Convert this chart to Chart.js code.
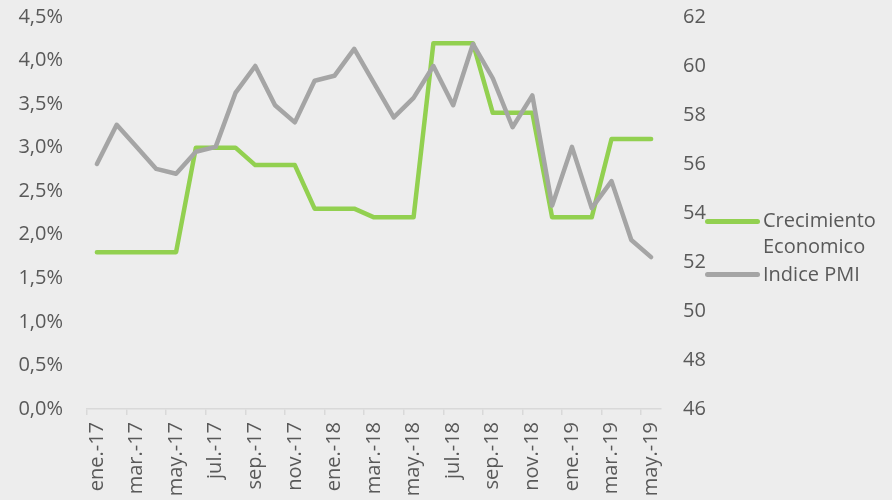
<!DOCTYPE html>
<html>
<head>
<meta charset="utf-8">
<script src="https://cdn.jsdelivr.net/npm/chart.js@4/dist/chart.umd.min.js"></script>
<style>
  html, body { margin:0; padding:0; background:#EDEDED; }
  #wrap { position:relative; width:892px; height:500px; background:#EDEDED; overflow:hidden; }
  canvas { position:absolute; left:0; top:0; }
  .leg { position:absolute; font-family:"Open Sans", sans-serif; font-size:20px; color:#595959; line-height:26px; white-space:nowrap; }
  .sw { position:absolute; height:5px; border-radius:3px; }
</style>
</head>
<body>
<div id="wrap">
  <canvas id="c" width="892" height="500"></canvas>
  <div class="sw" style="left:705px; top:219px; width:55px; background:#92D050;"></div>
  <div class="leg" style="left:763px; top:207px;">Crecimiento<br>Economico</div>
  <div class="sw" style="left:705px; top:272px; width:55px; background:#A5A5A5;"></div>
  <div class="leg" style="left:763px; top:261px;">Indice PMI</div>
</div>
<script>
const months = [
  'ene.-17','feb.-17','mar.-17','abr.-17','may.-17','jun.-17','jul.-17','ago.-17','sep.-17','oct.-17','nov.-17','dic.-17',
  'ene.-18','feb.-18','mar.-18','abr.-18','may.-18','jun.-18','jul.-18','ago.-18','sep.-18','oct.-18','nov.-18','dic.-18',
  'ene.-19','feb.-19','mar.-19','abr.-19','may.-19'
];
const crecimiento = [
  1.8,1.8,1.8,1.8,1.8,3.0,3.0,3.0,2.8,2.8,2.8,2.3,
  2.3,2.3,2.2,2.2,2.2,4.2,4.2,4.2,3.4,3.4,3.4,2.2,
  2.2,2.2,3.1,3.1,3.1
];
const pmi = [
  56.0,57.6,56.7,55.8,55.6,56.5,56.7,58.9,60.0,58.4,57.7,59.4,
  59.6,60.7,59.3,57.9,58.7,60.0,58.4,60.9,59.5,57.5,58.8,54.3,
  56.7,54.2,55.3,52.9,52.2
];
const leftTicks = {min:0, max:4.5, step:0.5};
const rightTicks = {min:46, max:62, step:2};

const txt = '#595959';
const font = {family:'"Open Sans", sans-serif', size:20};
const clear = 'rgba(0,0,0,0)';

new Chart(document.getElementById('c'), {
  type:'line',
  data:{
    labels: months,
    datasets:[
      {label:'Crecimiento Economico', data:crecimiento, yAxisID:'y', borderColor:'#92D050', borderWidth:4.5,
       pointRadius:0, tension:0, borderCapStyle:'round', borderJoinStyle:'round', order:2},
      {label:'Indice PMI', data:pmi, yAxisID:'y1', borderColor:'#A5A5A5', borderWidth:4.5,
       pointRadius:0, tension:0, borderCapStyle:'round', borderJoinStyle:'round', order:1}
    ]
  },
  options:{
    responsive:false, animation:false, devicePixelRatio:1,
    layout:{padding:{top:17, left:0, right:181, bottom:0}},
    plugins:{legend:{display:false}, tooltip:{enabled:false}},
    scales:{
      x:{
        offset:true,
        grid:{display:true, offset:true, drawOnChartArea:false, tickLength:6, lineWidth:1.5,
              tickColor:(ctx)=> (ctx.index % 2 === 0 ? '#D9D9D9' : clear)},
        border:{display:true, color:'#D9D9D9', width:1.5},
        ticks:{autoSkip:false, maxRotation:90, minRotation:90, color:txt, font:font, padding:7,
               callback:(v,i)=> (i % 2 === 0 ? months[i] : '')},
        afterFit:(s)=>{ s.height = 91; }
      },
      y:{
        position:'left', min:leftTicks.min, max:leftTicks.max,
        grid:{display:true, drawOnChartArea:false, drawTicks:true, tickLength:24, tickColor:clear},
        border:{display:false},
        ticks:{stepSize:leftTicks.step, color:txt, font:font, padding:0,
               callback:(v)=> v.toFixed(1).replace('.',',') + '%'},
        afterFit:(s)=>{ s.width = 87; }
      },
      y1:{
        position:'right', min:rightTicks.min, max:rightTicks.max,
        grid:{display:true, drawOnChartArea:false, drawTicks:true, tickLength:22, tickColor:clear},
        border:{display:false},
        ticks:{stepSize:rightTicks.step, color:txt, font:font, padding:0},
        afterFit:(s)=>{ s.width = 50; }
      }
    }
  },
  plugins:[{
    id:'bg',
    beforeDraw:(chart)=>{ const c = chart.ctx; c.save(); c.fillStyle='#EDEDED'; c.fillRect(0,0,chart.width,chart.height); c.restore(); }
  }]
});
</script>
</body>
</html>
